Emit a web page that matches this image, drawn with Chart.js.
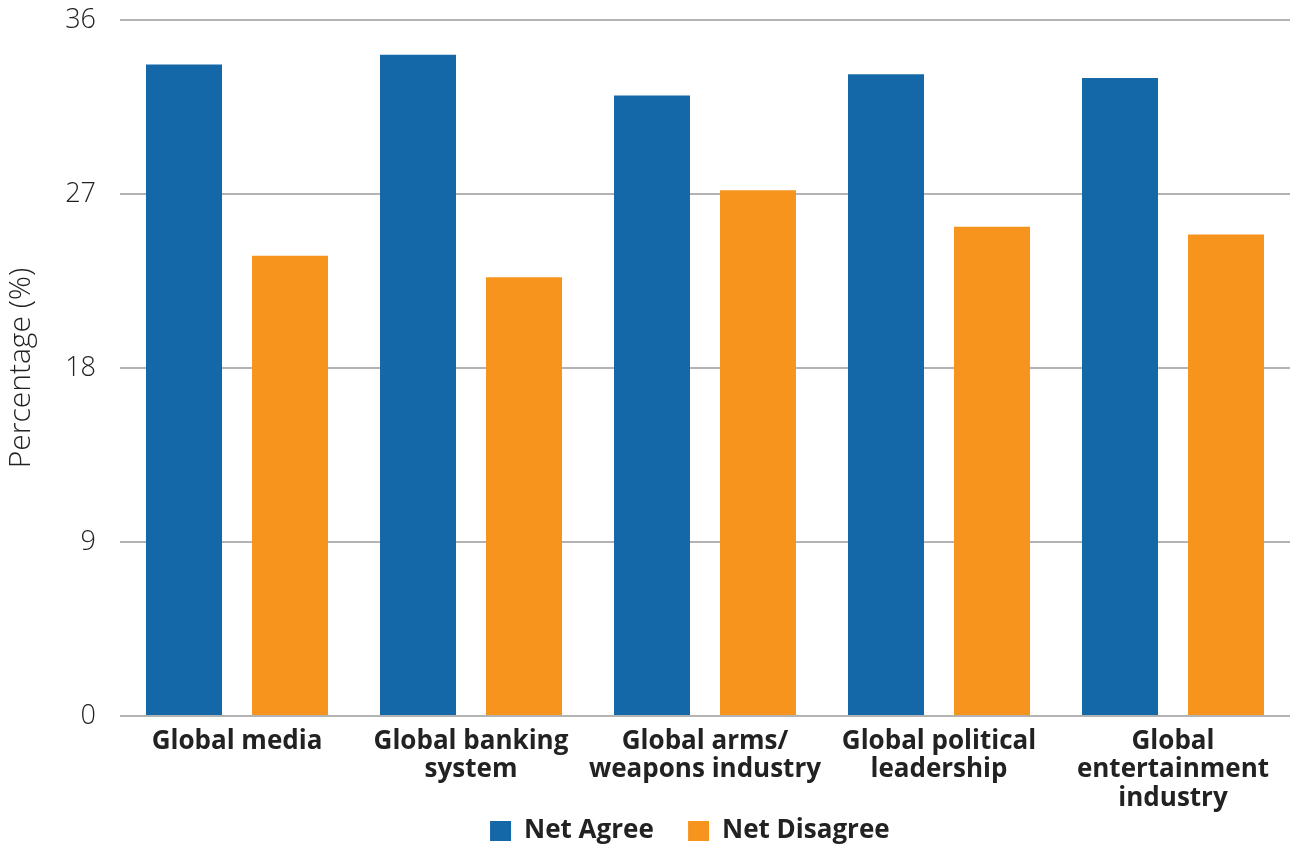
<!DOCTYPE html>
<html>
<head>
<meta charset="utf-8">
<script src="https://cdn.jsdelivr.net/npm/chart.js@4/dist/chart.umd.min.js"></script>
<style>
  html, body { margin: 0; padding: 0; background: #ffffff; }
  #wrap { width: 1297px; height: 845px; }
</style>
</head>
<body>
<div id="wrap"><canvas id="trustChart"></canvas></div>
<script>
// categories and series
const categories = [
  "Global media",
  ["Global banking", "system"],
  ["Global arms/", "weapons industry"],
  ["Global political", "leadership"],
  ["Global", "entertainment", "industry"]
];
const netAgree = [33.7, 34.2, 32.1, 33.2, 33.0];
const netDisagree = [23.8, 22.7, 27.2, 25.3, 24.9];
const yTicks = [0, 9, 18, 27, 36];

const FONT = "'Open Sans', 'DejaVu Sans', sans-serif";
// wide gap after each legend entry (legend padding also sets its vertical offset)
const LEGEND_GAP = "\u2003\u2009";

const ctx = document.getElementById("trustChart").getContext("2d");
const trustChart = new Chart(ctx, {
  type: "bar",
  data: {
    labels: categories,
    datasets: [
      {
        label: "Net Agree",
        data: netAgree,
        backgroundColor: "#1468a8",
        categoryPercentage: 0.906,
        barPercentage: 0.717,
      },
      {
        label: "Net Disagree",
        data: netDisagree,
        backgroundColor: "#f7941e",
        categoryPercentage: 0.906,
        barPercentage: 0.717,
      },
    ],
  },
  options: {
    responsive: true,
    maintainAspectRatio: false,
    animation: false,
    layout: {
      // legend box hangs a little past the bottom edge so the row sits low
      padding: { top: 20, right: 7, bottom: -9, left: 0 },
    },
    plugins: {
      legend: {
        display: true,
        position: "bottom",
        fullSize: false,
        labels: {
          color: "#222222",
          font: { family: FONT, size: 26, weight: "bold" },
          boxWidth: 21,
          boxHeight: 20,
          padding: 4,
          generateLabels: (chart) =>
            Chart.defaults.plugins.legend.labels.generateLabels(chart).map((item) => {
              item.text = item.text + LEGEND_GAP;
              item.lineWidth = 0;
              return item;
            }),
        },
      },
      tooltip: { enabled: false },
    },
    scales: {
      x: {
        grid: { display: false, drawTicks: false },
        border: { display: false },
        ticks: {
          color: "#222222",
          padding: 11,
          maxRotation: 0,
          autoSkip: false,
          font: { family: FONT, size: 26, weight: "bold", lineHeight: 1.1 },
        },
        afterFit: (scale) => { scale.height = 98; },
      },
      y: {
        min: 0,
        max: 36,
        afterBuildTicks: (scale) => {
          scale.ticks = yTicks.map((v) => ({ value: v }));
        },
        grid: {
          color: "#b3b3b3",
          lineWidth: 2,
          drawTicks: false,
        },
        border: { display: false },
        ticks: {
          color: "#222222",
          padding: 24,
          font: { family: FONT, size: 27, weight: "300" },
        },
        title: {
          display: true,
          text: "Percentage (%)",
          color: "#222222",
          padding: { top: 3, bottom: 0 },
          font: { family: FONT, size: 30, weight: "300" },
        },
        afterFit: (scale) => {
          scale.width = 120;
          scale.paddingTop = 0;
          scale.paddingBottom = 0;
        },
      },
    },
  },
});
</script>
</body>
</html>
